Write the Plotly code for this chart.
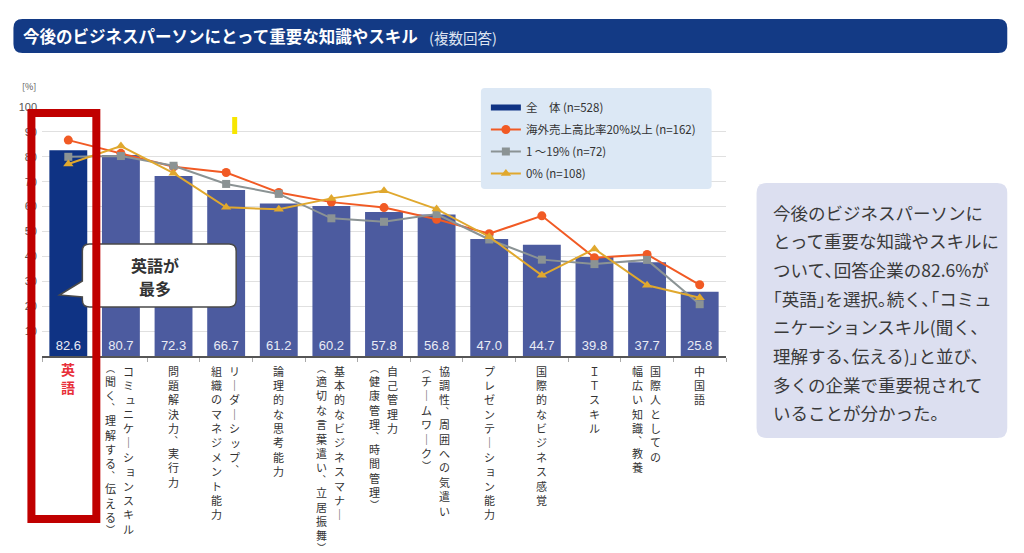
import plotly.graph_objects as go

# ---------------- data ----------------
categories = [
    "英語", "コミュニケーションスキル(聞く、理解する、伝える)", "問題解決力、実行力",
    "リーダーシップ、組織のマネジメント能力", "論理的な思考能力",
    "基本的なビジネスマナー(適切な言葉遣い、立居振舞)", "自己管理力(健康管理、時間管理)",
    "協調性、周囲への気遣い(チームワーク)", "プレゼンテーション能力", "国際的なビジネス感覚",
    "ITスキル", "国際人としての幅広い知識、教養", "中国語",
]
label_columns = [
    ["英語"],
    ["コミュニケーションスキル", "(聞く、理解する、伝える)"],
    ["問題解決力、実行力"],
    ["リーダーシップ、", "組織のマネジメント能力"],
    ["論理的な思考能力"],
    ["基本的なビジネスマナー", "(適切な言葉遣い、立居振舞)"],
    ["自己管理力", "(健康管理、時間管理)"],
    ["協調性、周囲への気遣い", "(チームワーク)"],
    ["プレゼンテーション能力"],
    ["国際的なビジネス感覚"],
    ["ＩＴスキル"],
    ["国際人としての", "幅広い知識、教養"],
    ["中国語"],
]
overall = [82.6, 80.7, 72.3, 66.7, 61.2, 60.2, 57.8, 56.8, 47.0, 44.7, 39.8, 37.7, 25.8]
overseas_20plus = [86.7, 81.4, 76.0, 73.7, 65.7, 61.8, 59.6, 54.9, 49.1, 56.3, 39.5, 40.8, 28.6]
overseas_1_19 = [80.0, 80.3, 76.4, 69.1, 65.1, 55.3, 53.9, 57.0, 46.8, 38.7, 36.9, 38.6, 20.8]
overseas_0 = [77.1, 84.3, 73.4, 59.7, 58.9, 63.3, 66.4, 59.0, 47.9, 32.4, 43.0, 28.4, 23.4]

series_names = ["全　体 (n=528)", "海外売上高比率20%以上 (n=162)", "1 ～19% (n=72)", "0% (n=108)"]
y_ticks = [10, 20, 30, 40, 50, 60, 70, 80, 90, 100]

title_main = "今後のビジネスパーソンにとって重要な知識やスキル"
title_sub = "(複数回答)"
note_lines = [
    "今後のビジネスパーソンに",
    "とって重要な知識やスキルに",
    "ついて､回答企業の82.6%が",
    "｢英語｣を選択｡続く､｢コミュ",
    "ニケーションスキル(聞く､",
    "理解する､伝える)｣と並び､",
    "多くの企業で重要視されて",
    "いることが分かった｡",
]
callout_lines = ["英語が", "最多"]

# ---------------- styles ----------------
NAVY = "#0f3384"
SLATE = "#4c5b9f"
ORANGE = "#f15a24"
GRAY = "#8b9394"
GOLD = "#e0a82e"
JP = "Noto Sans CJK JP"

# page body has an 8px margin: work in reference pixels, offset by 8
OX, OY = 8, 8
W, H = 1008, 545
L, R, T, B = 41.6, 726.4, 107, 356   # plot area in reference pixels


def px(x):
    return (x - L) / (R - L)


def py(y):
    return (B - y) / (B - T)


def path_from(points):
    s = ""
    for kind, *c in points:
        if kind == "Q":
            s += f"Q{px(c[0]):.5f},{py(c[1]):.5f} {px(c[2]):.5f},{py(c[3]):.5f} "
        else:
            s += f"{kind}{px(c[0]):.5f},{py(c[1]):.5f} "
    return s + "Z"


def rrect(x0, y0, x1, y1, r):
    return path_from([
        ("M", x0 + r, y0), ("L", x1 - r, y0), ("Q", x1, y0, x1, y0 + r),
        ("L", x1, y1 - r), ("Q", x1, y1, x1 - r, y1), ("L", x0 + r, y1),
        ("Q", x0, y1, x0, y1 - r), ("L", x0, y0 + r), ("Q", x0, y0, x0 + r, y0),
    ])


# vertical-writing glyph forms
VERT = {"ー": "｜", "、": "︑", "(": "︵", ")": "︶", "（": "︵", "）": "︶", "。": "︒"}
PUNCT = set("、。()（）")
SMALL = set("ッュョィャェァォゃゅょっ")
FULL_STEP = 14.4
PUNCT_STEP = 10.5


def vertical_chars(text, top):
    """Return (glyph, center_y_px, xshift, size) for a vertical column starting at `top`."""
    y = top
    out = []
    for ch in text:
        g = VERT.get(ch, ch)
        if ch in PUNCT:
            out.append((g, y + 3.5, 0, 9))
            y += PUNCT_STEP
        elif ch in SMALL:
            out.append((g, y + 5.0, 1.5, 11))
            y += FULL_STEP
        else:
            out.append((g, y + 5.5, 0, 11))
            y += FULL_STEP
    return out


fig = go.Figure()

fig.add_trace(go.Bar(
    x=categories, y=overall, width=0.72,
    marker=dict(color=[NAVY] + [SLATE] * (len(overall) - 1), line=dict(width=0)),
    text=[f"{v:.1f}" for v in overall], textposition="inside", insidetextanchor="start",
    textangle=0, textfont=dict(color="#e9ebf5", size=13, family="Liberation Sans"),
    showlegend=False, name=series_names[0],
))
fig.add_trace(go.Scatter(x=[None], y=[None], mode="lines", name=series_names[0],
                         line=dict(color=NAVY, width=6), legendgroup="a"))
fig.add_trace(go.Scatter(x=categories, y=overseas_20plus, mode="lines+markers", name=series_names[1],
                         line=dict(color=ORANGE, width=2), marker=dict(symbol="circle", size=9, color=ORANGE),
                         legendgroup="b"))
fig.add_trace(go.Scatter(x=categories, y=overseas_1_19, mode="lines+markers", name=series_names[2],
                         line=dict(color=GRAY, width=2), marker=dict(symbol="square", size=8, color=GRAY),
                         legendgroup="c"))
fig.add_trace(go.Scatter(x=categories, y=overseas_0, mode="lines+markers", name=series_names[3],
                         line=dict(color=GOLD, width=2), marker=dict(symbol="triangle-up", size=9, color=GOLD),
                         legendgroup="d"))

shapes = []
shapes.append(dict(type="path", xref="paper", yref="paper", path=rrect(13, 19, 1008, 53, 9),
                   fillcolor="#133a85", line=dict(width=0), layer="above"))
shapes.append(dict(type="path", xref="paper", yref="paper", path=rrect(481, 88, 712, 189, 4),
                   fillcolor="#dce8f5", line=dict(width=0), layer="above"))
shapes.append(dict(type="path", xref="paper", yref="paper", path=rrect(757, 183, 1008, 438, 10),
                   fillcolor="#dcdff0", line=dict(width=0), layer="above"))
cx0, cy0, cx1, cy1, cr = 82, 244, 236, 307, 7
shapes.append(dict(type="path", xref="paper", yref="paper", layer="above",
                   fillcolor="white", line=dict(color="#4a4a4a", width=1.5),
                   path=path_from([
                       ("M", cx0 + cr, cy0), ("L", cx1 - cr, cy0), ("Q", cx1, cy0, cx1, cy0 + cr),
                       ("L", cx1, cy1 - cr), ("Q", cx1, cy1, cx1 - cr, cy1), ("L", cx0 + cr, cy1),
                       ("Q", cx0, cy1, cx0, cy1 - cr), ("L", cx0, 297), ("L", 59, 295), ("L", cx0, 281),
                       ("L", cx0, cy0 + cr), ("Q", cx0, cy0, cx0 + cr, cy0),
                   ])))
shapes.append(dict(type="rect", xref="paper", yref="paper", x0=px(31), x1=px(96), y0=py(113), y1=py(519),
                   line=dict(color="#c00000", width=8), fillcolor="rgba(0,0,0,0)", layer="above"))
shapes.append(dict(type="rect", xref="paper", yref="paper", x0=px(232), x1=px(237), y0=py(117), y1=py(134),
                   line=dict(width=0), fillcolor="#f7e600", layer="above"))

ann = []
ann.append(dict(xref="paper", yref="paper", x=px(21), y=py(36), xanchor="left", yanchor="middle",
                text=f"<b>{title_main}</b>", showarrow=False, font=dict(family=JP, size=16.5, color="white")))
ann.append(dict(xref="paper", yref="paper", x=px(427), y=py(37), xanchor="left", yanchor="middle",
                text=title_sub, showarrow=False, font=dict(family=JP, size=14.5, color="#dfe5f2")))
ann.append(dict(xref="paper", yref="paper", x=px(20), y=py(87), xanchor="left", yanchor="middle",
                text="[%]", showarrow=False, font=dict(family=JP, size=9, color="#555555")))
for i, line in enumerate(note_lines):
    ann.append(dict(xref="paper", yref="paper", x=px(771), y=py(212 + i * 28.7), xanchor="left",
                    yanchor="middle", text=line, showarrow=False,
                    font=dict(family=JP, size=17.5, color="#3a3a3a")))
for i, line in enumerate(callout_lines):
    ann.append(dict(xref="paper", yref="paper", x=px(155), y=py(265 + i * 23), xanchor="center",
                    yanchor="middle", text=f"<b>{line}</b>", showarrow=False,
                    font=dict(family=JP, size=16, color="#333333")))
for i, (cat, cols) in enumerate(zip(categories, label_columns)):
    if i == 0:
        ann.append(dict(xref="x", yref="paper", x=cat, y=py(357), xanchor="center", yanchor="top",
                        text="<b>" + "<br>".join(cols[0]) + "</b>", showarrow=False,
                        font=dict(family=JP, size=14, color="#e8303a")))
        continue
    shifts = [0] if len(cols) == 1 else [8, -10]
    for col, sh in zip(cols, shifts):
        for g, yc, xs, fs in vertical_chars(col, 365):
            ann.append(dict(xref="x", yref="paper", x=cat, y=py(yc), xanchor="center", yanchor="middle",
                            xshift=sh + xs, text=g, showarrow=False,
                            font=dict(family=JP, size=fs, color="#333333")))

fig.update_layout(
    width=W, height=H,
    margin=dict(l=L - OX, r=W - (R - OX), t=T - OY, b=H - (B - OY), pad=0),
    paper_bgcolor="white", plot_bgcolor="white",
    font=dict(family=JP, color="#333333"),
    showlegend=True,
    legend=dict(x=px(486), y=py(93), xanchor="left", yanchor="top", bgcolor="rgba(0,0,0,0)",
                borderwidth=0, font=dict(family=JP, size=11.5, color="#333333"),
                itemwidth=30, traceorder="grouped", tracegroupgap=3),
    xaxis=dict(type="category", range=[-0.5, 12.5], showticklabels=False, ticks="outside",
               tickson="boundaries", ticklen=4, tickcolor="#aaaaaa", showline=True,
               linecolor="#555555", linewidth=1.5, showgrid=False, zeroline=False),
    yaxis=dict(range=[0, 100], tickvals=y_ticks, ticktext=[str(v) for v in y_ticks],
               showgrid=True, gridcolor="#e0e0e0", gridwidth=1, zeroline=False, showline=False,
               ticks="", ticklabelstandoff=4,
               tickfont=dict(family="Liberation Sans", size=11, color="#555555")),
    shapes=shapes, annotations=ann,
)

fig.write_html("out.html")
